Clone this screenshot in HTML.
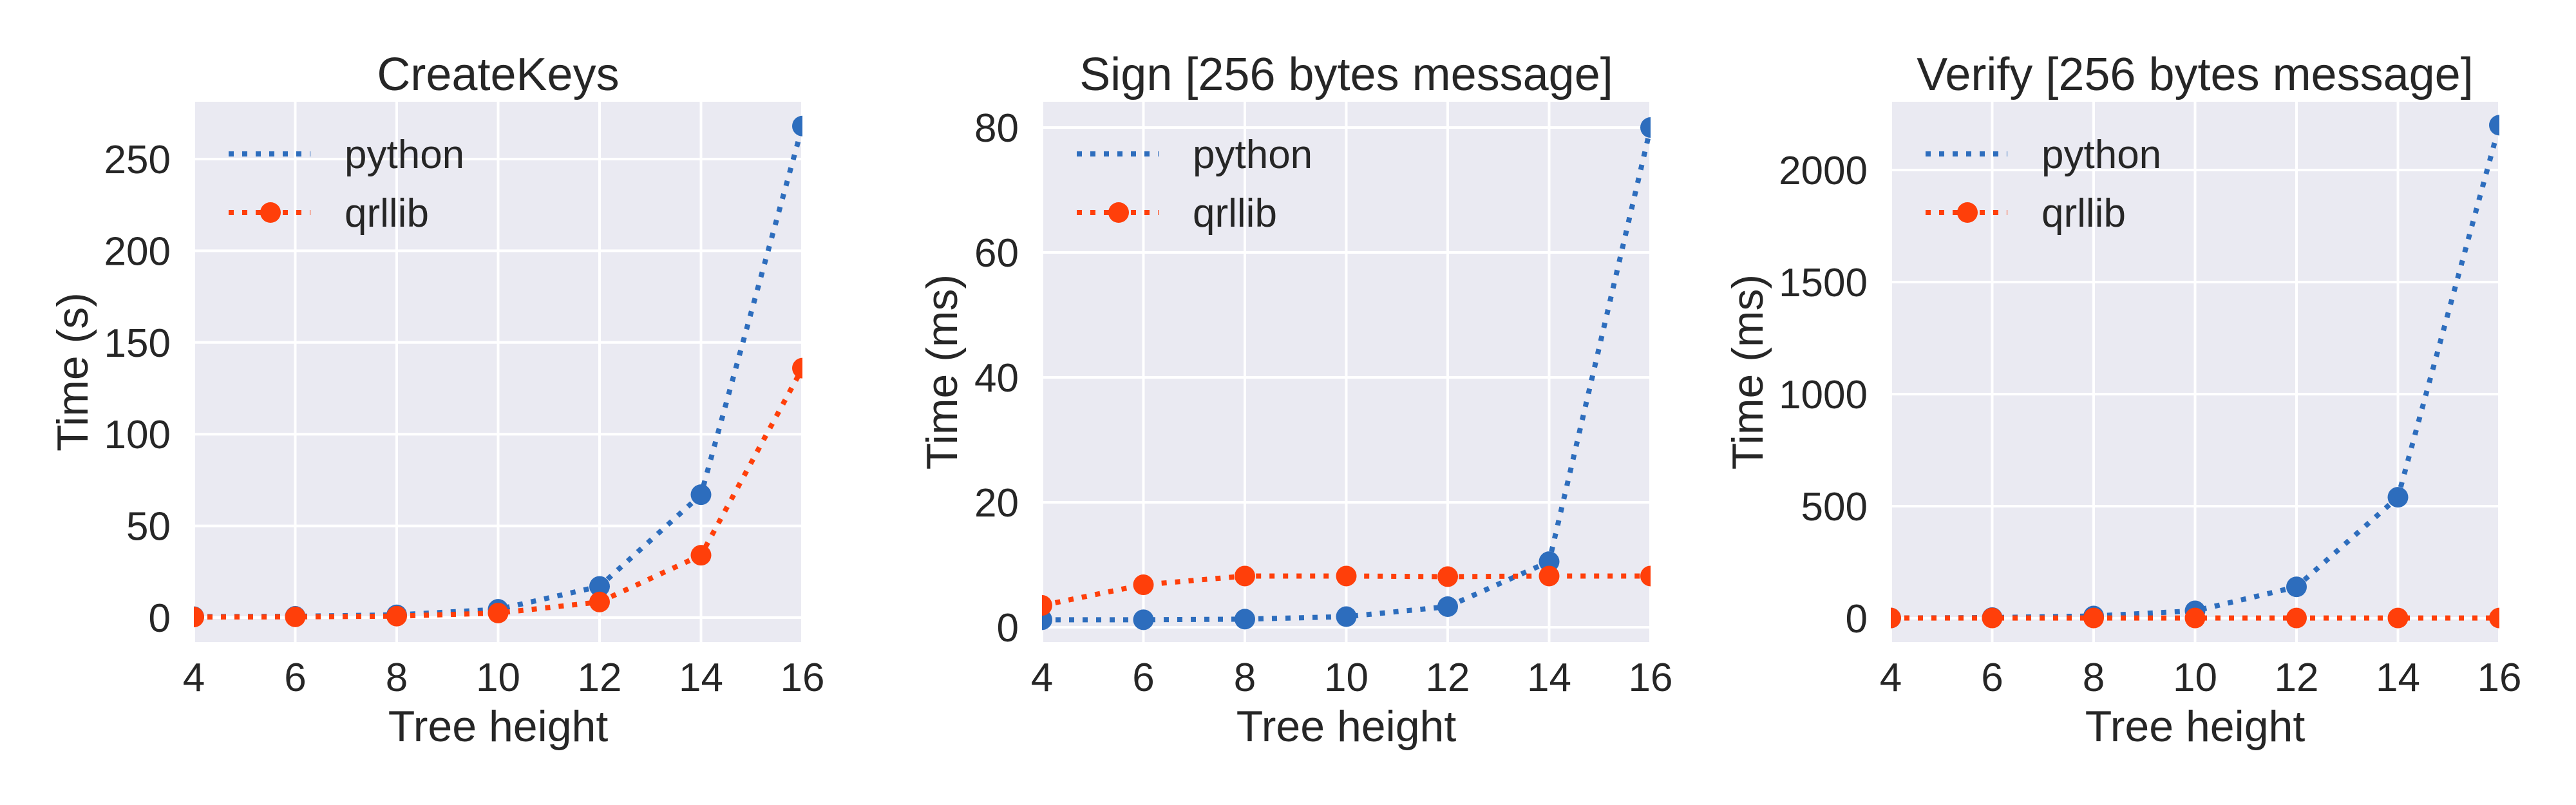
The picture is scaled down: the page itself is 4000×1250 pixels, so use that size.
<!DOCTYPE html>
<html><head><meta charset="utf-8"><style>
html,body{margin:0;padding:0;background:#fff;}
svg{display:block;font-family:"Liberation Sans",Arial,sans-serif;}
</style></head><body>
<svg id="fig" width="4000" height="1250" viewBox="0 0 4000 1250" xmlns="http://www.w3.org/2000/svg"></svg>
<script>
const categories = [4, 6, 8, 10, 12, 14, 16];
const createPython = [0.5, 0.7, 1.5, 4.5, 17, 67, 268];
const createQrl = [0.3, 0.4, 0.8, 2.5, 8.5, 34, 136];
const signPython = [1.2, 1.2, 1.3, 1.7, 3.3, 10.5, 80];
const signQrl = [3.5, 6.8, 8.2, 8.2, 8.1, 8.2, 8.2];
const verifyPython = [1, 3, 10, 33, 140, 540, 2200];
const verifyQrl = [1, 1, 1, 1, 1, 1, 1];
const createTicks = [0, 50, 100, 150, 200, 250];
const signTicks = [0, 20, 40, 60, 80];
const verifyTicks = [0, 500, 1000, 1500, 2000];
const xTicks = [4, 6, 8, 10, 12, 14, 16];

const NS = "http://www.w3.org/2000/svg";
const svg = document.getElementById('fig');
function mk(tag, attrs, parent, text){
  const e = document.createElementNS(NS, tag);
  for (const k in attrs) e.setAttribute(k, attrs[k]);
  if (text !== undefined) e.textContent = text;
  (parent || svg).appendChild(e);
  return e;
}
const BLUE = '#2d6dbd', RED = '#ff3f0a', TXT = '#262626';

function panel(name, left, title, ylabel, ticks, yTop, yZeroPx, yTopPx, py, pq, ylabX){
  const top = 158, bottom = 997, width = 945;
  const g = mk('g', {});
  
  
  const xs = v => left + (v - 4) / 12 * width;
  const ys = v => yZeroPx - v / yTop * (yZeroPx - yTopPx);
  const bg = mk('rect', {x: left, y: top, width: width, height: bottom - top, fill: '#eaeaf2'}, g);
  
  
  const clipId = name + '-clip';
  const cp = mk('clipPath', {id: clipId}, g);
  mk('rect', {x: left, y: top, width: width, height: bottom - top}, cp);
  xTicks.forEach(t => {
    const gl = mk('line', {x1: xs(t), x2: xs(t), y1: top, y2: bottom, stroke: '#fff', 'stroke-width': 4}, g);
    
    
    const tl = mk('text', {x: xs(t), y: 1073, 'font-size': 62, fill: TXT, 'text-anchor': 'middle'}, g, String(t));
    
    
  });
  ticks.forEach(t => {
    const gl = mk('line', {x1: left, x2: left + width, y1: ys(t), y2: ys(t), stroke: '#fff', 'stroke-width': 4}, g);
    
    
    const tl = mk('text', {x: left - 36, y: ys(t) + 22, 'font-size': 62, fill: TXT, 'text-anchor': 'end'}, g, String(t));
    
    
  });
  const tt = mk('text', {x: left + width / 2, y: 140, 'font-size': 72, fill: TXT, 'text-anchor': 'middle'}, g, title);
  
  
  const xl = mk('text', {x: left + width / 2, y: 1151, 'font-size': 68, fill: TXT, 'text-anchor': 'middle'}, g, 'Tree height');
  
  
  const cy = (top + bottom) / 2;
  const yl = mk('text', {x: ylabX, y: cy + 24, 'font-size': 68, fill: TXT, 'text-anchor': 'middle', transform: 'rotate(-90 ' + ylabX + ' ' + cy + ')'}, g, ylabel);
  
  
  const series = [[py, BLUE, 'python'], [pq, RED, 'qrllib']];
  const cg = mk('g', {'clip-path': 'url(#' + clipId + ')'}, g);
  series.forEach(([vals, col, sname]) => {
    const pts = categories.map((c, i) => xs(c) + ',' + ys(vals[i])).join(' ');
    const pl = mk('polyline', {points: pts, fill: 'none', stroke: col, 'stroke-width': 8, 'stroke-dasharray': '8 13'}, cg);
    
    
    categories.forEach((c, i) => {
      const m = mk('circle', {cx: xs(c), cy: ys(vals[i]), r: 16, fill: col}, cg);
      
      
    });
  });
  const lg = mk('g', {}, g);
  
  
  [['python', BLUE, 239, false], ['qrllib', RED, 330, true]].forEach(([lab, col, y, marker]) => {
    const e = mk('g', {}, lg);
    
    
    mk('line', {x1: left + 54, x2: left + 181, y1: y, y2: y, stroke: col, 'stroke-width': 8, 'stroke-dasharray': '8 13'}, e);
    if (marker) mk('circle', {cx: left + 119, cy: y, r: 16, fill: col}, e);
    mk('text', {x: left + 234, y: y + 22, 'font-size': 62, fill: TXT}, e, lab);
  });
}
panel('createkeys', 301, 'CreateKeys', 'Time (s)', createTicks, 250, 959, 247, createPython, createQrl, 112);
panel('sign', 1618, 'Sign [256 bytes message]', 'Time (ms)', signTicks, 80, 974, 198, signPython, signQrl, 1462);
panel('verify', 2936, 'Verify [256 bytes message]', 'Time (ms)', verifyTicks, 2000, 960, 264, verifyPython, verifyQrl, 2713);
</script>
</body></html>
